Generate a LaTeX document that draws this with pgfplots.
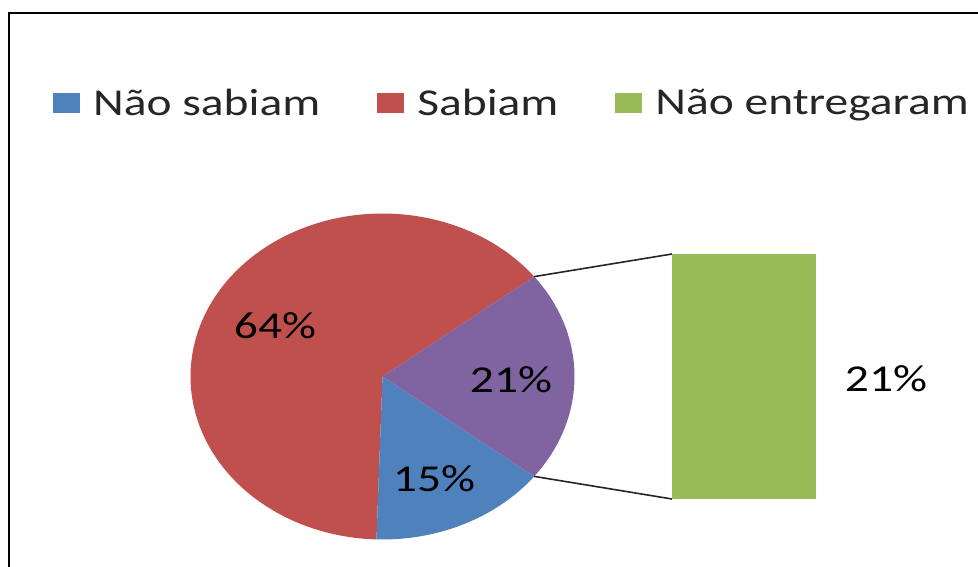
\documentclass[border=0pt]{standalone}
\usepackage{fontspec}
\setmainfont{Carlito}[FakeStretch=1.25]
\usepackage{pgfplots}
\pgfplotsset{compat=1.18}
\definecolor{pieblue}{HTML}{4F81BD}
\definecolor{piered}{HTML}{C0504D}
\definecolor{piegreen}{HTML}{9BBB59}
\definecolor{piepurple}{HTML}{8064A2}
% values (percent)
\def\vA{15}  % Nao sabiam
\def\vB{64}  % Sabiam
\def\vC{21}  % Nao entregaram (other)
\begin{document}
\begin{tikzpicture}
\pgfmathsetmacro{\half}{\vC*3.6/2}
\pgfmathsetmacro{\bstart}{-\half-\vA*3.6}
\pgfmathsetmacro{\rend}{\bstart+360}
\begin{axis}[
  scale only axis, width=978bp, height=567bp,
  xmin=0, xmax=978, ymin=0, ymax=567,
  hide axis, clip=false,
  legend columns=3,
  legend cell align=left,
  legend image code/.code={\fill[#1] (0bp,-10bp) rectangle (27bp,10bp);},
  legend style={draw=none, fill=none, at={(axis cs:53,464)}, anchor=west,
    inner sep=0pt, font=\fontsize{38bp}{44bp}\selectfont, text=black!85,
    nodes={inner xsep=13bp, inner ysep=0pt},
    /tikz/every even column/.append style={column sep=44bp}},
]
% frame
\addplot[forget plot, black, line width=2bp] coordinates {(9,-5) (9,554.3) (990,554.3)};
% pie slices
\addplot[forget plot, draw=none, fill=piered, domain=\half:\rend, samples=120, variable=\t]
  ({382.5+192*cos(t)},{190.5+163*sin(t)}) -- (382.5,190.5) -- cycle;
\addplot[forget plot, draw=none, fill=pieblue, domain=\bstart:-\half, samples=60, variable=\t]
  ({382.5+192*cos(t)},{190.5+163*sin(t)}) -- (382.5,190.5) -- cycle;
\addplot[forget plot, draw=none, fill=piepurple, domain=-\half:\half, samples=60, variable=\t]
  ({382.5+192*cos(t)},{190.5+163*sin(t)}) -- (382.5,190.5) -- cycle;
% bar of "other"
\addplot[forget plot, draw=none, fill=piegreen] coordinates {(672,68) (816,68) (816,313) (672,313)} -- cycle;
% connector lines
\addplot[forget plot, black!85, line width=1.6bp] coordinates {(534.2,290.4) (672,313)};
\addplot[forget plot, black!85, line width=1.6bp] coordinates {(534.2,90.6) (672,68)};
% labels
\node[anchor=base, font=\fontsize{38bp}{44bp}\selectfont, text=black] at (axis cs:275,228) {64\%};
\node[anchor=base, font=\fontsize{38bp}{44bp}\selectfont, text=black] at (axis cs:511,174) {21\%};
\node[anchor=base, font=\fontsize{38bp}{44bp}\selectfont, text=black] at (axis cs:434,75) {15\%};
\node[anchor=base, font=\fontsize{38bp}{44bp}\selectfont, text=black] at (axis cs:886,175) {21\%};
% legend
\addlegendimage{fill=pieblue, draw=none}
\addlegendentry{Não sabiam}
\addlegendimage{fill=piered, draw=none}
\addlegendentry{Sabiam}
\addlegendimage{fill=piegreen, draw=none}
\addlegendentry{Não entregaram}
\end{axis}
\pgfresetboundingbox
\path (current axis.south west) rectangle (current axis.north east);
\end{tikzpicture}
\end{document}
